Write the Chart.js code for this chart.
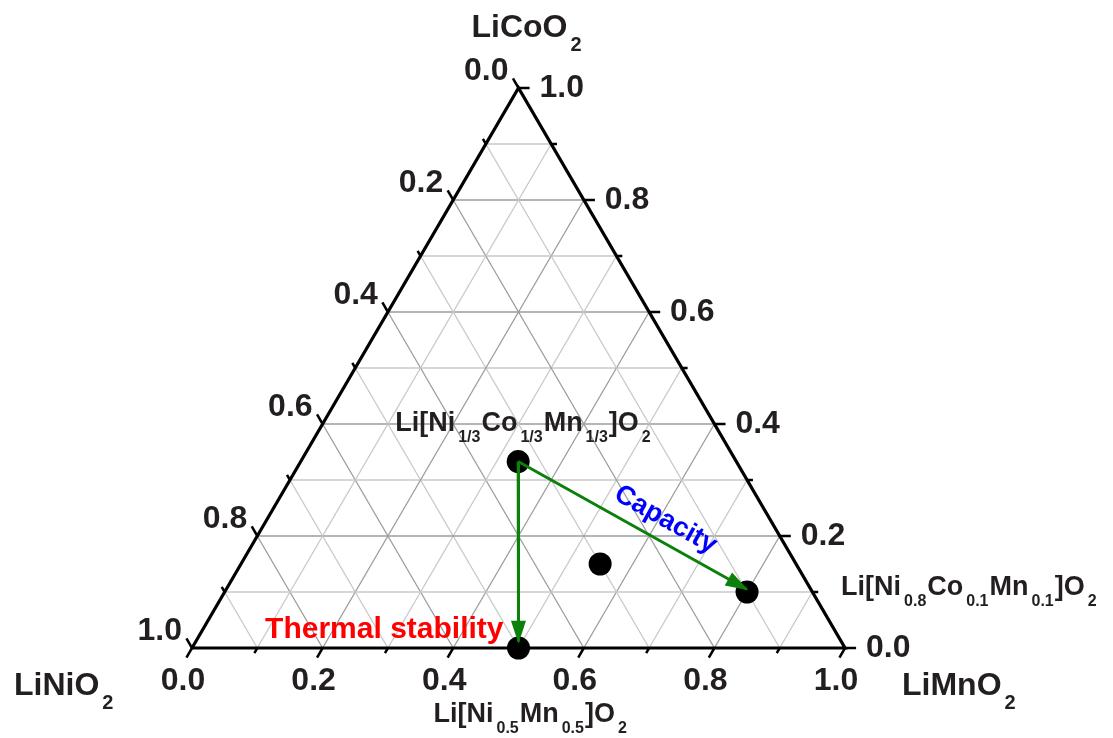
<!DOCTYPE html>
<html>
<head>
<meta charset="utf-8">
<script src="https://cdn.jsdelivr.net/npm/chart.js@4.4.1/dist/chart.umd.min.js"></script>
<style>
    html, body { margin: 0; padding: 0; background: #fff; }
    #wrap { width: 1113px; height: 738px; }
</style>
</head>
<body>
<div id="wrap"><canvas id="myChart" width="1113" height="738"></canvas></div>
<script>
// ternary axes: bottom = LiMnO2 fraction, right = LiCoO2 fraction, left = LiNiO2 fraction
const tickValues = [0, 0.2, 0.4, 0.6, 0.8, 1.0];
const tickLabels = ["0.0", "0.2", "0.4", "0.6", "0.8", "1.0"];
const minorValues = [0.1, 0.3, 0.5, 0.7, 0.9];
const gridValues = [0.1, 0.2, 0.3, 0.4, 0.5, 0.6, 0.7, 0.8, 0.9];

const vertexNames = [
    [["LiCoO", 0], ["2", 1]],
    [["LiNiO", 0], ["2", 1]],
    [["LiMnO", 0], ["2", 1]]
];

// compositions (bottom axis value, right axis value)
const pointNames = [
    [["Li[Ni", 0], ["1/3", 1], ["Co", 0], ["1/3", 1], ["Mn", 0], ["1/3", 1], ["]O", 0], ["2", 1]],
    [["Li[Ni", 0], ["0.5", 1], ["Mn", 0], ["0.5", 1], ["]O", 0], ["2", 1]],
    [["Li[Ni", 0], ["0.8", 1], ["Co", 0], ["0.1", 1], ["Mn", 0], ["0.1", 1], ["]O", 0], ["2", 1]],
    null
];
const pointBottom = [0.333, 0.5, 0.8, 0.55];
const pointRight = [0.333, 0.0, 0.1, 0.15];

// arrows: from -> to, in (bottom, right) axis values
const arrowFrom = [[0.333, 0.333], [0.333, 0.333]];
const arrowTo = [[0.4945, 0.011], [0.797, 0.105]];
const arrowTexts = ["Thermal stability", "Capacity"];
const arrowColors = ["#ff0000", "#0000ff"];

const tx = (b, r) => b + r / 2;
const ty = (b, r) => r;
const pt = (b, r) => ({x: tx(b, r), y: ty(b, r)});

const FONT = '"Liberation Sans", Arial, sans-serif';
const GREEN = "#0b800b";

let datasets = [];

// grid lines
for (let v of gridValues) {
    let major = Math.round(v * 10) % 2 === 0;
    let style = {
        showLine: true, pointRadius: 0, fill: false,
        borderColor: major ? "#9c9c9c" : "#c8c8c8",
        borderWidth: 1.3, order: 5
    };
    datasets.push({...style, data: [pt(0, v), pt(1 - v, v)]});
    datasets.push({...style, data: [pt(v, 0), pt(v, 1 - v)]});
    datasets.push({...style, data: [pt(1 - v, 0), pt(0, 1 - v)]});
}

// ticks, as short extensions of grid lines outside the triangle
function addTicks(values, d) {
    for (let v of values) {
        let style = {showLine: true, pointRadius: 0, fill: false, borderColor: "#000", borderWidth: 2.5, order: 3};
        datasets.push({...style, data: [pt(v, 0), pt(v, -d)]});
        datasets.push({...style, data: [pt(1 - v, v), pt(1 - v + d, v)]});
        datasets.push({...style, data: [pt(0, 1 - v), pt(-d, 1 - v + d)]});
    }
}
addTicks(tickValues, 0.017);
addTicks(minorValues, 0.009);

// triangle frame
datasets.push({
    showLine: true, pointRadius: 0, fill: false, borderColor: "#000", borderWidth: 3.2,
    borderJoinStyle: "miter", order: 2,
    data: [pt(0, 0), pt(1, 0), pt(0, 1), pt(0, 0)]
});

// composition points
datasets.push({
    showLine: false, pointRadius: 11.5, pointHoverRadius: 11.5,
    backgroundColor: "#000", borderWidth: 0, order: 1,
    data: pointBottom.map((b, i) => pt(b, pointRight[i]))
});

// arrow shafts
for (let i = 0; i < arrowFrom.length; i++) {
    datasets.push({
        showLine: true, pointRadius: 0, fill: false, borderColor: GREEN, borderWidth: 3, order: 0,
        data: [pt(arrowFrom[i][0], arrowFrom[i][1]), pt(arrowTo[i][0], arrowTo[i][1])]
    });
}

function drawRich(ctx, runs, x, y, size, subSize, subDy) {
    ctx.textAlign = "left";
    ctx.textBaseline = "alphabetic";
    for (let [t, sub] of runs) {
        ctx.font = "bold " + (sub ? subSize : size) + "px " + FONT;
        if (sub) x += 3;
        ctx.fillText(t, x, sub ? y + subDy : y);
        x += ctx.measureText(t).width + (sub ? 1 : 0);
    }
}

const ternaryText = {
    id: "ternaryText",
    afterDatasetsDraw(chart) {
        const ctx = chart.ctx;
        const sx = chart.scales.x, sy = chart.scales.y;
        const px = (b, r) => [sx.getPixelForValue(tx(b, r)), sy.getPixelForValue(ty(b, r))];
        ctx.save();

        // arrow heads
        ctx.fillStyle = GREEN;
        for (let i = 0; i < arrowFrom.length; i++) {
            let [x0, y0] = px(arrowFrom[i][0], arrowFrom[i][1]);
            let [x1, y1] = px(arrowTo[i][0], arrowTo[i][1]);
            let len = Math.hypot(x1 - x0, y1 - y0);
            let ux = (x1 - x0) / len, uy = (y1 - y0) / len;
            let bx = x1 - ux * 21, by = y1 - uy * 21;
            ctx.beginPath();
            ctx.moveTo(x1 + ux * 2, y1 + uy * 2);
            ctx.lineTo(bx - uy * 7.5, by + ux * 7.5);
            ctx.lineTo(bx + uy * 7.5, by - ux * 7.5);
            ctx.closePath();
            ctx.fill();
        }

        // axis tick labels
        ctx.font = "bold 32px " + FONT;
        ctx.fillStyle = "#231f20";
        ctx.textBaseline = "middle";
        tickValues.forEach((v, i) => {
            let [x, y] = px(v, 0);
            ctx.textAlign = "center";
            ctx.fillText(tickLabels[i], x - 9, y + 33);
            [x, y] = px(1 - v, v);
            ctx.textAlign = "left";
            ctx.fillText(tickLabels[i], x + 21, y);
            [x, y] = px(0, 1 - v);
            ctx.textAlign = "right";
            ctx.fillText(tickLabels[i], x - 10, y - 17);
        });

        // vertex labels
        let [ax, ay] = px(0, 1);
        drawRich(ctx, vertexNames[0], ax - 47, ay - 51, 32, 20, 14);
        [ax, ay] = px(0, 0);
        drawRich(ctx, vertexNames[1], ax - 178, ay + 47, 32, 20, 14);
        [ax, ay] = px(1, 0);
        drawRich(ctx, vertexNames[2], ax + 57, ay + 47, 32, 20, 14);

        // composition labels
        const offs = [[-123, -31], [-85, 74], [94, 3]];
        pointNames.forEach((runs, i) => {
            if (!runs) return;
            let [x, y] = px(pointBottom[i], pointRight[i]);
            drawRich(ctx, runs, x + offs[i][0], y + offs[i][1], 27, 16, 11);
        });

        // arrow captions
        ctx.font = "bold 30px " + FONT;
        ctx.fillStyle = arrowColors[0];
        ctx.textAlign = "right";
        ctx.textBaseline = "alphabetic";
        let [ex, ey] = px(arrowTo[0][0], arrowTo[0][1]);
        ctx.fillText(arrowTexts[0], ex - 15, ey - 4);

        let [x0, y0] = px(arrowFrom[1][0], arrowFrom[1][1]);
        let [x1, y1] = px(arrowTo[1][0], arrowTo[1][1]);
        let ang = Math.atan2(y1 - y0, x1 - x0);
        let cx = x0 + (x1 - x0) * 0.6 + Math.sin(ang) * 21;
        let cy = y0 + (y1 - y0) * 0.6 - Math.cos(ang) * 21;
        ctx.translate(cx, cy);
        ctx.rotate(ang);
        ctx.font = "bold 27px " + FONT;
        ctx.fillStyle = arrowColors[1];
        ctx.textAlign = "center";
        ctx.textBaseline = "middle";
        ctx.fillText(arrowTexts[1], 0, 0);
        ctx.restore();
    }
};

const ctx = document.getElementById("myChart");

let myChart = new Chart(ctx, {
    type: "scatter",
    data: {datasets: datasets},
    options: {
        responsive: false,
        animation: false,
        events: [],
        layout: {padding: 0, autoPadding: false},
        plugins: {
            legend: {display: false},
            tooltip: {enabled: false}
        },
        scales: {
            x: {type: "linear", display: false, min: -0.29403, max: 1.41041},
            y: {type: "linear", display: false, min: -0.16071, max: 1.15714}
        }
    },
    plugins: [ternaryText]
});
</script>
</body>
</html>
